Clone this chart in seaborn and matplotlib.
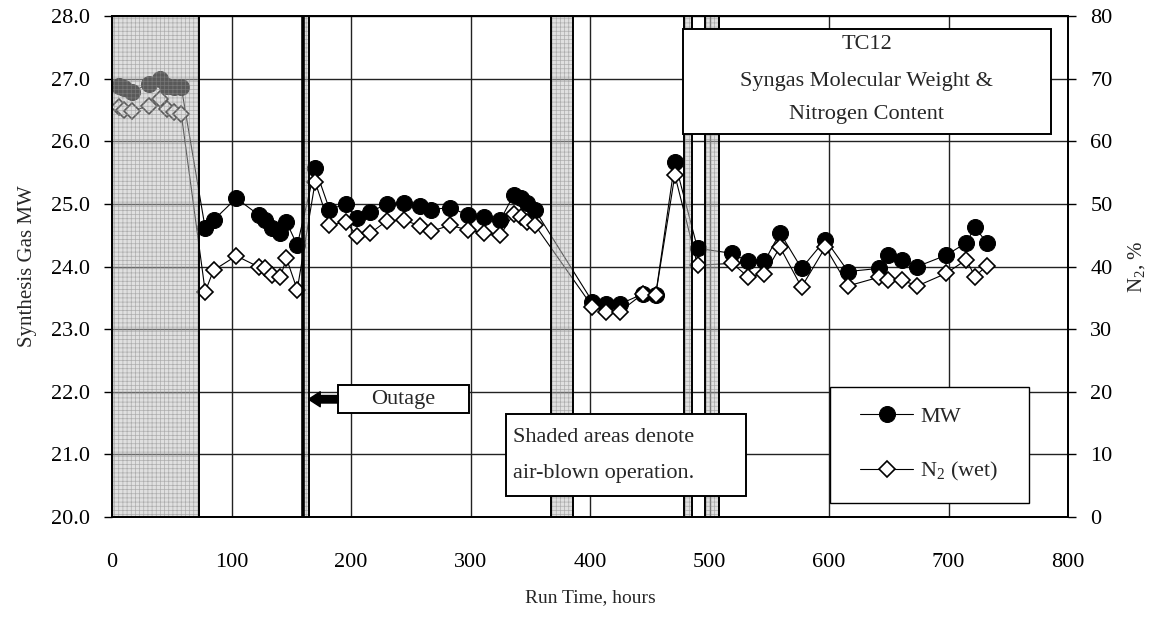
import numpy as np
import pandas as pd
import matplotlib
matplotlib.use("Agg")
import matplotlib.pyplot as plt
from matplotlib.patches import Rectangle
import seaborn as sns

# ---------------- data ----------------
hours = [6, 10, 17, 31, 40, 46, 52, 58,
         78, 85, 104, 123, 128, 134, 141, 146, 155,
         170, 182, 196, 205, 216, 230, 244, 258, 267, 283, 298, 311, 325, 336, 342, 347, 354,
         402, 413, 425, 444, 455, 471,
         490, 519, 532, 546, 559, 577, 597, 616, 642, 649, 661, 674, 698, 715, 722, 732]
mw = [26.89, 26.85, 26.79, 26.92, 27.00, 26.88, 26.87, 26.86,
      24.61, 24.74, 25.09, 24.82, 24.74, 24.61, 24.54, 24.71, 24.34,
      25.57, 24.91, 25.00, 24.77, 24.87, 25.00, 25.02, 24.97, 24.91, 24.94, 24.82, 24.79, 24.74, 25.14, 25.09, 25.01, 24.90,
      23.44, 23.40, 23.40, 23.56, 23.55, 25.67,
      24.29, 24.21, 24.08, 24.08, 24.54, 23.97, 24.43, 23.92, 23.97, 24.18, 24.10, 24.00, 24.18, 24.38, 24.63, 24.38]
n2 = [65.5, 65.0, 64.9, 65.6, 66.8, 65.1, 64.7, 64.3,
      36.0, 39.4, 41.7, 39.9, 39.7, 38.6, 38.4, 41.3, 36.3,
      53.5, 46.6, 47.1, 44.9, 45.3, 47.3, 47.4, 46.5, 45.6, 46.6, 45.8, 45.4, 45.0, 48.4, 47.9, 47.1, 46.6,
      33.6, 32.8, 32.8, 35.6, 35.5, 54.6,
      40.2, 40.5, 38.4, 38.8, 43.1, 36.7, 43.1, 36.9, 38.3, 37.8, 37.8, 36.9, 38.9, 41.1, 38.4, 40.1]
air_blown = [(0, 73), (160, 165), (367, 386), (479, 485), (496, 508)]
outage_hour = 160
x_ticks = list(range(0, 801, 100))
mw_ticks = list(range(20, 29))
n2_ticks = list(range(0, 81, 10))

df = pd.DataFrame({"hours": hours, "mw": mw, "n2": n2})

# ---------------- style ----------------
sns.set_theme(style="white")
plt.rcParams["font.family"] = ["Liberation Serif", "DejaVu Serif"]
plt.rcParams["mathtext.fontset"] = "custom"
plt.rcParams["mathtext.rm"] = "Liberation Serif"
plt.rcParams["mathtext.default"] = "regular"
plt.rcParams["hatch.linewidth"] = 0.5

W, H = 1157, 622
fig = plt.figure(figsize=(W / 100, H / 100), dpi=100)
fig.patch.set_facecolor("white")
ax = fig.add_axes([112 / W, 1 - 517 / H, 956 / W, 501 / H])
ax2 = ax.twinx()

# grid
ax.set_xlim(0, 800)
ax.set_ylim(20, 28)
ax2.set_ylim(0, 80)
ax.set_xticks(x_ticks)
ax.set_yticks(mw_ticks)
ax2.set_yticks(n2_ticks)
ax.grid(True, color="#222222", lw=1.0)
ax.set_axisbelow(True)

# data
sns.lineplot(data=df, x="hours", y="mw", ax=ax, sort=False, estimator=None,
             color="black", lw=0.8, marker="o", markersize=11.5,
             markerfacecolor="black", markeredgecolor="black", legend=False, zorder=3)
sns.lineplot(data=df, x="hours", y="n2", ax=ax2, sort=False, estimator=None,
             color="black", lw=0.8, marker="D", markersize=8,
             markerfacecolor="white", markeredgecolor="black", markeredgewidth=1.2,
             legend=False, zorder=3)

# shaded air-blown periods (drawn over data, semi-transparent)
for a, b in air_blown:
    ax2.axvspan(a, b, facecolor=(0.745, 0.745, 0.745, 0.47), edgecolor=(0.55, 0.55, 0.55, 0.6),
                hatch="++++", lw=0, zorder=5)
    ax2.axvspan(a, b, facecolor="none", edgecolor="black", lw=1.4, zorder=6)
ax2.axvline(outage_hour, color="black", lw=2.6, zorder=6)

# axes styling
for a_ in (ax, ax2):
    for s in a_.spines.values():
        s.set_color("black")
        s.set_linewidth(1.3)
ax.tick_params(axis="x", direction="out", length=6, width=1, colors="black", pad=20, labelsize=16)
ax.tick_params(axis="y", direction="out", length=6, width=1, colors="black", pad=10, labelsize=16)
ax2.tick_params(axis="y", direction="out", length=6, width=1, colors="black", pad=10, labelsize=16)
ax.set_yticklabels([f"{v:.1f}" for v in mw_ticks])
ax2.set_yticklabels([str(v) for v in n2_ticks])
ax.set_xlabel("Run Time, hours", fontsize=14, labelpad=12)
ax.set_ylabel("Synthesis Gas MW", fontsize=15, labelpad=10)
ax2.set_ylabel("N$_2$, %", fontsize=15, labelpad=10)

# ---------------- annotation boxes ----------------
def box(x0, x1, y0, y1, lw=1.4):
    # x in hours, y in MW units
    r = Rectangle((x0, y0), x1 - x0, y1 - y0, transform=ax.transData,
                  facecolor="white", edgecolor="black", lw=lw, zorder=10, clip_on=False)
    ax2.add_patch(r)

def n2y(v_mw):
    return v_mw * 10 - 200

# title box
box(477.6, 785.8, 26.11, 27.79)
ax2.text(631.7, n2y(27.54), "TC12", ha="center", va="center", fontsize=16, zorder=11)
ax2.text(631.7, n2y(26.96), "Syngas Molecular Weight &", ha="center", va="center", fontsize=16, zorder=11)
ax2.text(631.7, n2y(26.43), "Nitrogen Content", ha="center", va="center", fontsize=16, zorder=11)

# outage box + arrow
box(189.4, 298.4, 21.66, 22.11)
ax2.text(243.9, n2y(21.88), "Outage", ha="center", va="center", fontsize=16, zorder=11)
ax2.annotate("", xy=(164.5, n2y(21.88)), xytext=(189.4, n2y(21.88)),
             arrowprops=dict(arrowstyle="simple,head_length=0.7,head_width=0.9,tail_width=0.45",
                             color="black", shrinkA=0, shrinkB=0), zorder=11)

# shaded-note box
box(329.8, 530.8, 20.33, 21.64)
ax2.text(335.6, n2y(21.27), "Shaded areas denote", ha="left", va="center", fontsize=16, zorder=11)
ax2.text(335.6, n2y(20.70), "air-blown operation.", ha="left", va="center", fontsize=16, zorder=11)

# legend box
box(600.5, 767.0, 20.23, 22.07, lw=1.0)
h1 = ax.lines[0]
h2 = ax2.lines[0]
leg = ax2.legend([h1, h2], ["MW", "N$_2$ (wet)"], loc="center",
                 bbox_to_anchor=(683.7, n2y(21.15)), bbox_transform=ax2.transData,
                 frameon=False, fontsize=16, labelspacing=1.5, handlelength=2.4,
                 handletextpad=0.3)
leg.set_zorder(12)

fig.savefig("out.png", dpi=100)
